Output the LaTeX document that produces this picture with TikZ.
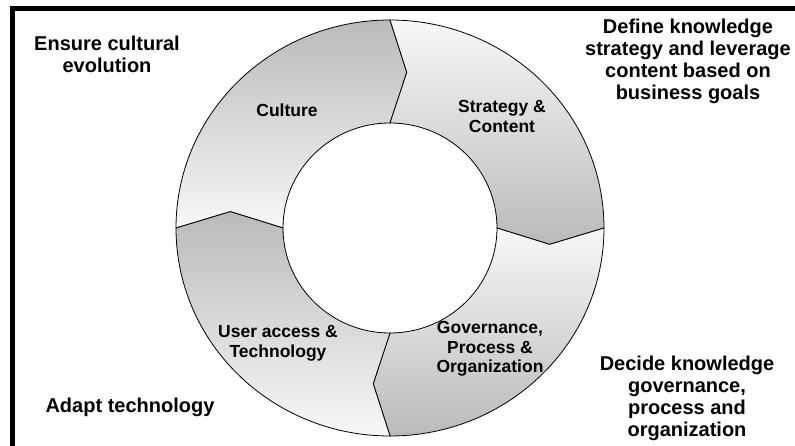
\documentclass[tikz,border=0pt]{standalone}
\usepackage{fontspec}
\setmainfont{Liberation Sans}
\usetikzlibrary{shadings}

\begin{document}
\begin{tikzpicture}[x=1pt, y=1pt, font=\bfseries,
segment/.style={draw=black, line width=0.8pt, line join=miter},
ringtext/.style={align=center, inner sep=0pt, font=\bfseries\fontsize{17.5}{19.5}\selectfont},
goaltext/.style={align=center, inner sep=0pt, font=\bfseries\fontsize{20}{22}\selectfont}]

\useasboundingbox (0,0) rectangle (795,446);
\fill[white] (0,0) rectangle (795,446);

% frame, only top and left edge shown
\draw[line width=5pt, line join=miter] (12.5,0) -- (12.5,437.5) -- (795,437.5);

% the four arrows of the cycle (outer 214/208, inner 107/105, tips at 160.5/156.5)
\begin{scope}[shift={(390,218)}]
\draw[segment, top color=black!27, bottom color=white!97!black]
  (180:214 and 208) arc[start angle=180, end angle=90, x radius=214, y radius=208]
  -- (84:160.5 and 156.5) -- (90:107 and 105)
  arc[start angle=90, end angle=180, x radius=107, y radius=105]
  -- (174:160.5 and 156.5) -- cycle;
\draw[segment, top color=white!97!black, bottom color=black!27]
  (90:214 and 208) arc[start angle=90, end angle=0, x radius=214, y radius=208]
  -- (-6:160.5 and 156.5) -- (0:107 and 105)
  arc[start angle=0, end angle=90, x radius=107, y radius=105]
  -- (84:160.5 and 156.5) -- cycle;
\draw[segment, top color=white!97!black, bottom color=black!27]
  (0:214 and 208) arc[start angle=0, end angle=-90, x radius=214, y radius=208]
  -- (-96:160.5 and 156.5) -- (-90:107 and 105)
  arc[start angle=-90, end angle=0, x radius=107, y radius=105]
  -- (-6:160.5 and 156.5) -- cycle;
\draw[segment, top color=black!27, bottom color=white!97!black]
  (-90:214 and 208) arc[start angle=-90, end angle=-180, x radius=214, y radius=208]
  -- (-186:160.5 and 156.5) -- (-180:107 and 105)
  arc[start angle=-180, end angle=-90, x radius=107, y radius=105]
  -- (-96:160.5 and 156.5) -- cycle;
\end{scope}

% labels on the ring
\node[ringtext] (culture) at (287,335.4) {Culture};
\node[ringtext] (strategy) at (502,329.4) {Strategy \&\\ Content};
\node[ringtext] (governance) at (490,97) {Governance,\\ Process \&\\ Organization};
\node[ringtext] (useraccess) at (278,102.5) {User access \&\\ Technology};

% goals around the ring
\node[goaltext] (ensure) at (107,392) {Ensure cultural\\ evolution};
\node[goaltext] (define) at (688,384.5) {Define knowledge\\ strategy and leverage\\ content based on\\ business goals};
\node[goaltext] (decide) at (687,48) {Decide knowledge\\ governance,\\ process and\\ organization};
\node[goaltext] (adapt) at (130,39) {Adapt technology};
%
\end{tikzpicture}
\end{document}
